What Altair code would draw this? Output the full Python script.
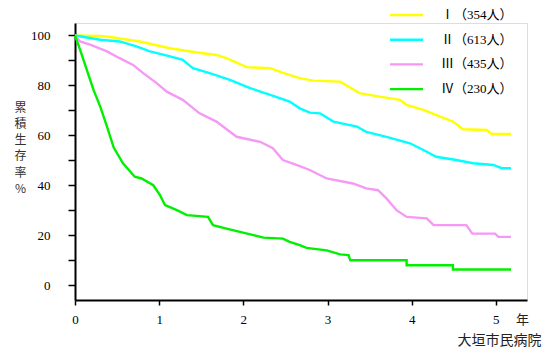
import altair as alt
import pandas as pd

groups = ["Ⅰ（354人）", "Ⅱ（613人）", "Ⅲ（435人）", "Ⅳ（230人）"]
colors = ["#FFFF00", "#00FFFF", "#F599F5", "#00F000"]

yr_1 = [0, 0.30, 0.42, 0.77, 1.13, 1.37, 1.68, 1.80, 2.04, 2.32, 2.47, 2.67, 2.83, 3.15, 3.38, 3.62, 3.86, 3.94, 4.14, 4.34, 4.49, 4.61, 4.89, 4.95, 5.18]
sv_1 = [100, 99.8, 99.4, 97.6, 94.9, 93.6, 92.2, 90.9, 87.3, 86.9, 85.0, 82.9, 81.9, 81.5, 76.9, 75.5, 74.2, 72.2, 70.2, 67.5, 65.5, 62.4, 62.1, 60.5, 60.5]

yr_2 = [0, 0.30, 0.53, 0.73, 0.89, 1.13, 1.28, 1.40, 1.60, 1.84, 2.08, 2.32, 2.55, 2.67, 2.79, 2.91, 3.07, 3.35, 3.46, 3.70, 3.98, 4.18, 4.29, 4.53, 4.73, 4.97, 5.07, 5.18]
sv_2 = [100, 98.3, 97.6, 95.6, 93.6, 91.6, 90.2, 86.9, 84.9, 82.2, 78.9, 76.2, 73.5, 70.8, 69.1, 68.8, 65.5, 63.5, 61.4, 59.4, 56.8, 53.4, 51.4, 50.1, 48.8, 48.1, 46.8, 46.8]

yr_3 = [0, 0.06, 0.18, 0.38, 0.53, 0.69, 0.81, 0.97, 1.09, 1.28, 1.48, 1.68, 1.92, 2.20, 2.35, 2.47, 2.63, 2.79, 2.99, 3.30, 3.46, 3.60, 3.70, 3.82, 3.94, 4.18, 4.26, 4.65, 4.72, 4.99, 5.03, 5.18]
sv_3 = [100, 97.6, 96.3, 93.6, 90.9, 88.2, 84.9, 80.9, 77.5, 74.2, 68.8, 65.5, 59.4, 57.4, 54.8, 50.1, 48.1, 46.1, 42.7, 40.7, 38.7, 38.0, 34.7, 30.0, 27.3, 26.7, 24.0, 24.0, 20.6, 20.6, 19.3, 19.3]

yr_4 = [0, 0.06, 0.14, 0.22, 0.30, 0.38, 0.46, 0.57, 0.71, 0.79, 0.93, 1.01, 1.07, 1.21, 1.33, 1.58, 1.64, 1.80, 1.96, 2.12, 2.24, 2.47, 2.55, 2.67, 2.75, 2.99, 3.15, 3.25, 3.27, 3.94, 3.94, 4.49, 4.49, 5.18]
sv_4 = [100, 94.3, 86.2, 78.2, 71.5, 63.5, 55.1, 48.8, 43.4, 42.7, 40.0, 36.0, 32.0, 30.0, 28.0, 27.3, 24.0, 22.6, 21.3, 20.0, 19.0, 18.6, 17.3, 16.0, 14.9, 13.9, 12.3, 12.0, 9.9, 9.9, 7.9, 7.9, 6.2, 6.2]

series = [(yr_1, sv_1), (yr_2, sv_2), (yr_3, sv_3), (yr_4, sv_4)]
rows = []
for g, (xs, ys) in zip(groups, series):
    for i, (x, y) in enumerate(zip(xs, ys)):
        rows.append({"group": g, "year": x, "surv": y, "order": i})
df = pd.DataFrame(rows)

serif = "Liberation Serif, Noto Sans CJK JP"
cjk = "Noto Sans CJK JP"

chart = alt.Chart(df).mark_line(interpolate="linear", strokeWidth=2.4).encode(
    x=alt.X("year:Q",
            scale=alt.Scale(domain=[0, 5.37], nice=False, zero=False),
            axis=alt.Axis(values=[0, 1, 2, 3, 4, 5], format="d", grid=False,
                          tickSize=5, tickWidth=1.5, domainWidth=2, domainColor="black",
                          tickColor="black", labelFont=serif, labelFontSize=13,
                          labelColor="black", labelPadding=8, labelFlush=False,
                          title="年", titleFont=cjk, titleFontSize=13,
                          titleFontWeight="normal", titleColor="#222222",
                          titleAlign="center", titleBaseline="middle",
                          titleX=447, titleY=19)),
    y=alt.Y("surv:Q",
            scale=alt.Scale(domain=[-6, 105], nice=False, zero=False),
            axis=alt.Axis(values=[0, 10, 20, 30, 40, 50, 60, 70, 80, 90, 100], grid=False,
                          labelExpr="datum.value % 20 == 0 ? datum.label : ''",
                          tickSize=7, tickWidth=1.5, domainWidth=2, domainColor="black",
                          tickColor="black", labelFont=serif, labelFontSize=13,
                          labelColor="black", labelPadding=18,
                          title=["累", "積", "生", "存", "率", "%"], titleFont=cjk,
                          titleFontSize=12, titleFontWeight="normal", titleColor="#333333",
                          titleAngle=0, titleAlign="center", titleBaseline="middle",
                          titleLineHeight=16.3, titleX=-55, titleY=84)),
    color=alt.Color("group:N",
                    scale=alt.Scale(domain=groups, range=colors),
                    legend=alt.Legend(title=None, orient="none", legendX=325, legendY=-14.5,
                                      symbolType="M-4,0H4", symbolSize=68,
                                      symbolStrokeWidth=2.4, labelFont=serif,
                                      labelFontSize=13, labelColor="black",
                                      labelOffset=28, rowPadding=10.7)),
    order="order:Q",
).properties(
    width=452, height=277,
    autosize="none",
    padding={"left": 75, "top": 23, "right": 28, "bottom": 54},
    title=alt.Title("大垣市民病院", orient="bottom", anchor="end", font=cjk,
                    fontSize=14, fontWeight="normal", color="#222222",
                    offset=8, dx=13),
).configure_view(stroke=None).configure(background="white")

chart.save("out.html", embed_options={"renderer": "svg", "actions": False})
